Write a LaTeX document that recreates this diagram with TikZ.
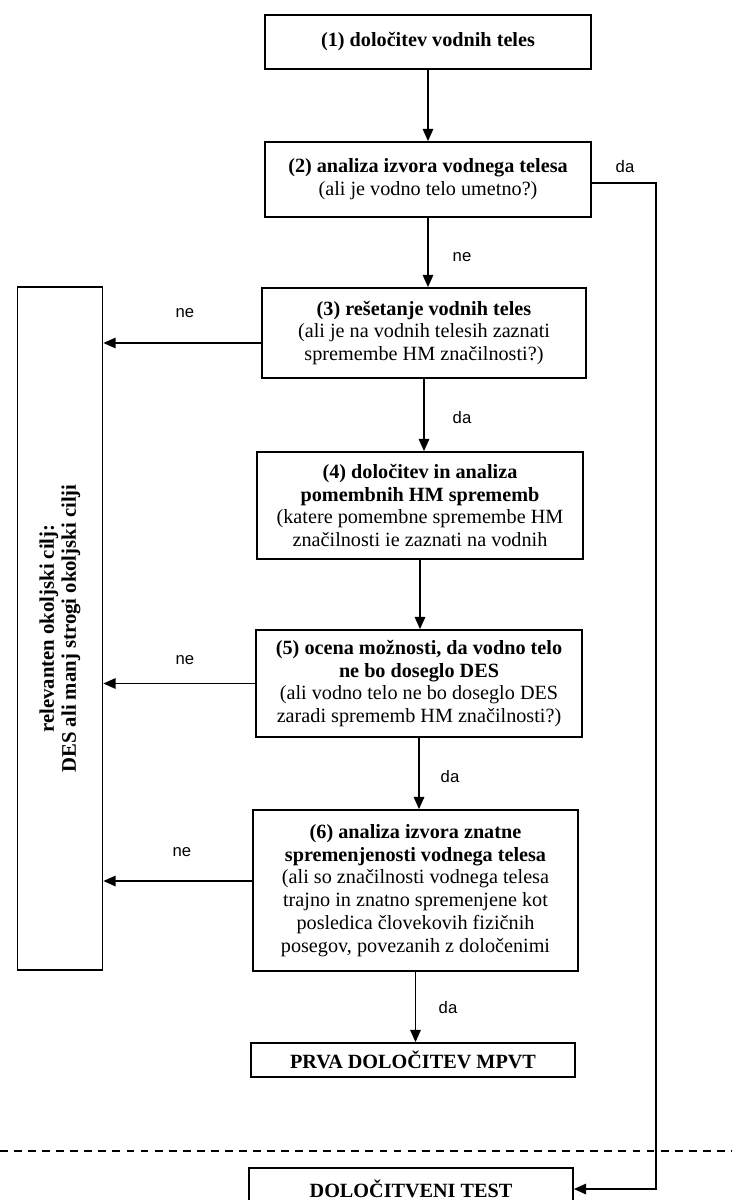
\documentclass[tikz,border=0pt]{standalone}
\usepackage{fontspec}
\setmainfont{Liberation Serif}
\newfontfamily\lblfont{Liberation Sans}
\usetikzlibrary{arrows.meta}
\newcommand\boxfont{\fontsize{11.5}{13}\selectfont}
\newcommand\sidefont{\fontsize{11.8}{12.6}\selectfont\bfseries}
\tikzset{
  box/.style={draw, line width=1pt, align=center, inner sep=2pt, font=\boxfont},
  lbl/.style={font=\lblfont\fontsize{9.5}{11}\selectfont},
  flow/.style={line width=0.9pt, -{Triangle[length=7pt,width=6pt]}},
}
\begin{document}
\begin{tikzpicture}[x=0.02cm, y=-0.02cm]
    \useasboundingbox (0,0) rectangle (731,1200);
    % steps
    \node[box, minimum width=6.52cm, minimum height=1.08cm] (b1) at (428,42)
        {\textbf{(1) določitev vodnih teles}};
    \node[box, minimum width=6.52cm, minimum height=1.5cm] (b2) at (428,179.5)
        {\textbf{(2) analiza izvora vodnega telesa}\\(ali je vodno telo umetno?)};
    \node[box, minimum width=6.48cm, minimum height=1.8cm] (b3) at (424,333)
        {\textbf{(3) rešetanje vodnih teles}\\(ali je na vodnih telesih zaznati\\spremembe HM značilnosti?)};
    \node[box, minimum width=6.52cm, minimum height=2.14cm] (b4) at (420,505.5)
        {\textbf{(4) določitev in analiza}\\\textbf{pomembnih HM sprememb}\\(katere pomembne spremembe HM\\značilnosti ie zaznati na vodnih};
    \node[box, minimum width=6.52cm, minimum height=2.14cm] (b5) at (419,683.5)
        {\textbf{(5) ocena možnosti, da vodno telo}\\\textbf{ne bo doseglo DES}\\(ali vodno telo ne bo doseglo DES\\zaradi sprememb HM značilnosti?)};
    \node[box, minimum width=6.5cm, minimum height=3.22cm] (b6) at (415.5,890.5)
        {\textbf{(6) analiza izvora znatne}\\\textbf{spremenjenosti vodnega telesa}\\(ali so značilnosti vodnega telesa\\trajno in znatno spremenjene kot\\posledica človekovih fizičnih\\posegov, povezanih z določenimi};
    \node[box, minimum width=6.48cm, minimum height=0.68cm] (prva) at (413,1060)
        {\textbf{PRVA DOLOČITEV MPVT}};
    \node[box, minimum width=6.48cm, minimum height=0.84cm] (test) at (411,1189)
        {\textbf{DOLOČITVENI TEST}};
    % goal box on the left
    \node[box, rotate=90, font=\sidefont, minimum width=13.66cm, minimum height=1.7cm] (goal) at (60,628.5)
        {relevanten okoljski cilj:\\DES ali manj strogi okoljski cilji};
    % down the chain
    \draw[flow] (b1.south) -- (b1.south |- b2.north);
    \draw[flow] (b2.south) -- (b2.south |- b3.north);
    \draw[flow] (b3.south) -- (b3.south |- b4.north);
    \draw[flow] (b4.south) -- (b4.south |- b5.north);
    \draw[flow] (b5.south) -- (b5.south |- b6.north);
    \draw[flow] (b6.south) -- (b6.south |- prva.north);
    % to the goal box
    \draw[flow] ([yshift=-0.2cm]b3.west) -- ([yshift=-0.2cm]b3.west -| goal.south);
    \draw[flow] (b5.west) -- (b5.west -| goal.south);
    \draw[flow] ([yshift=0.19cm]b6.west) -- ([yshift=0.19cm]b6.west -| goal.south);
    % artificial water body
    \draw[flow] ([yshift=-0.07cm]b2.east) -- ++(64,0) |- (test.east);
    % labels
    \node[lbl] (da1) at (625,167) {da};
    \node[lbl] (ne1) at (462,257) {ne};
    \node[lbl] (ne2) at (185,313) {ne};
    \node[lbl] (da2) at (462,418) {da};
    \node[lbl] (ne3) at (185,660) {ne};
    \node[lbl] (da3) at (450,777) {da};
    \node[lbl] (ne4) at (182,852) {ne};
    \node[lbl] (da4) at (448,1008) {da};
    \draw[line width=0.8pt, dash pattern=on 4.5pt off 3.5pt] (0,1151) -- (731,1151);
\end{tikzpicture}
\end{document}
